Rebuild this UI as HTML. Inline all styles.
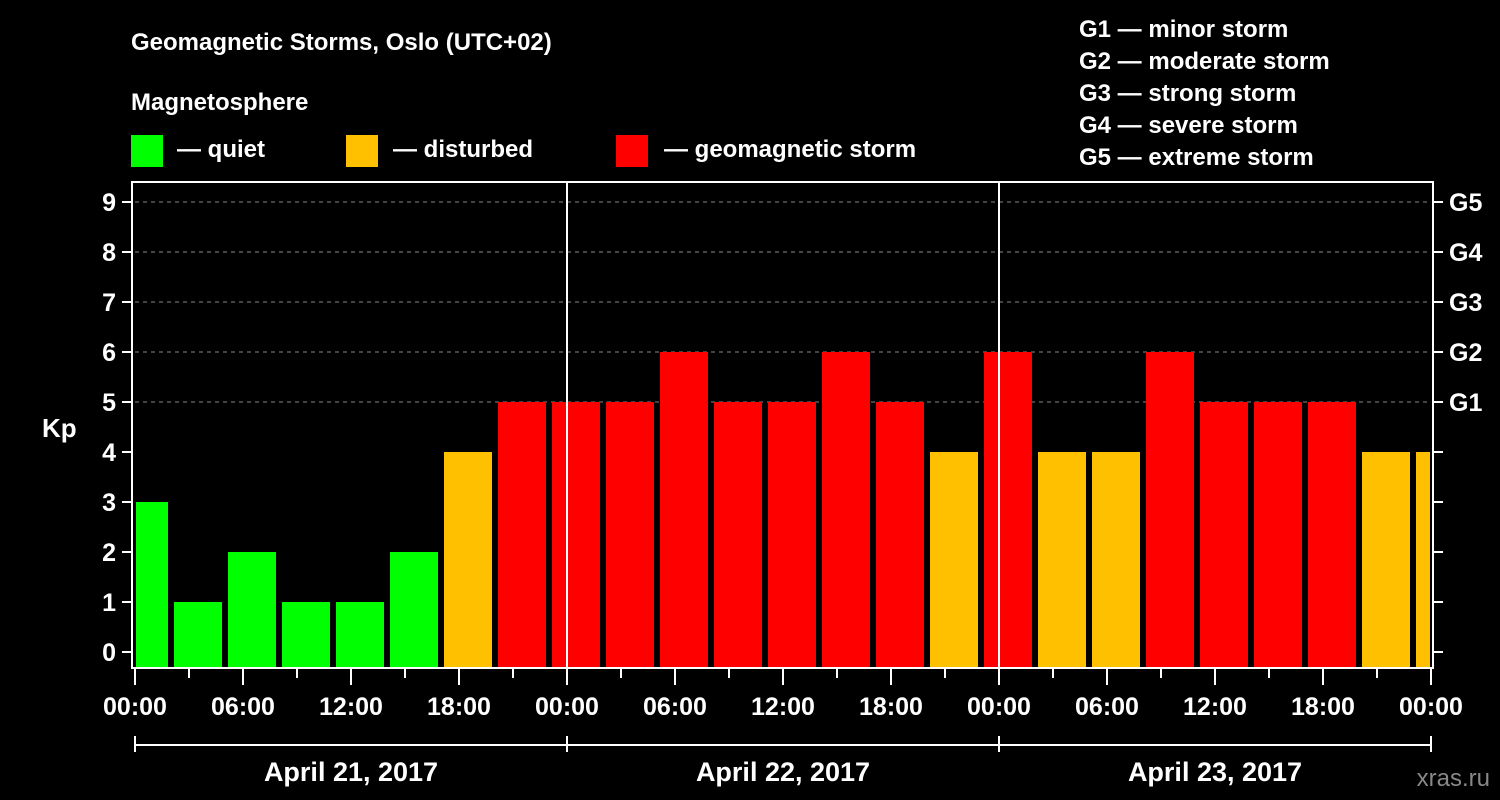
<!DOCTYPE html>
<html><head><meta charset="utf-8"><style>
html,body{margin:0;padding:0;background:#000;width:1500px;height:800px;overflow:hidden}
svg{display:block;font-family:"Liberation Sans",Arial,sans-serif;font-weight:bold}
</style></head><body>
<svg id="c" width="1500" height="800">
<text x="131" y="50" fill="#fff" font-size="24">Geomagnetic Storms, Oslo (UTC+02)</text>
<text x="131" y="110" fill="#fff" font-size="24">Magnetosphere</text>
<g><rect x="131" y="135" width="32" height="32" fill="#00ff00"/><text x="177" y="157" fill="#fff" font-size="24">— quiet</text></g>
<g><rect x="346" y="135" width="32" height="32" fill="#ffc000"/><text x="393" y="157" fill="#fff" font-size="24">— disturbed</text></g>
<g><rect x="616" y="135" width="32" height="32" fill="#ff0000"/><text x="664" y="157" fill="#fff" font-size="24">— geomagnetic storm</text></g>
<g fill="#fff" font-size="24">
<text x="1079" y="37">G1 — minor storm</text><text x="1079" y="69">G2 — moderate storm</text><text x="1079" y="101">G3 — strong storm</text><text x="1079" y="133">G4 — severe storm</text><text x="1079" y="165">G5 — extreme storm</text></g>
<text x="42" y="437" fill="#fff" font-size="26">Kp</text>
<text x="1490" y="786" fill="#888" font-size="24" text-anchor="end" font-weight="normal">xras.ru</text>
<g id="plot"></g>
</svg>
<script>
const kpValues=[3,1,2,1,1,2,4,5,5,5,6,5,5,6,5,4,6,4,4,6,5,5,5,4,4];
const yTicks=[0,1,2,3,4,5,6,7,8,9];
const gLabels=["G1","G2","G3","G4","G5"];
const gLevels=[5,6,7,8,9];
const xTickLabels=["00:00","06:00","12:00","18:00","00:00","06:00","12:00","18:00","00:00","06:00","12:00","18:00","00:00"];
const dayLabels=["April 21, 2017","April 22, 2017","April 23, 2017"];
const NS="http://www.w3.org/2000/svg";
const X0=135,X1=1431,TOP=182,BOT=668,Y0=652,UNIT=50,HOURS=72;
const xs=h=>X0+(X1-X0)*h/HOURS;
const ys=v=>Y0-v*UNIT;
const g=document.getElementById('plot');
function mk(t,a){const e=document.createElementNS(NS,t);for(const k in a)e.setAttribute(k,a[k]);g.appendChild(e);return e;}
// grid
gLevels.forEach(v=>{const e=mk('line',{x1:X0,x2:X1,y1:ys(v),y2:ys(v),stroke:'#888','stroke-dasharray':'4,4','stroke-width':1});

});
// bars
kpValues.forEach((v,i)=>{
 let l=xs(i*3-0.833),r=l+48;
 l=Math.max(l,X0+1);r=Math.min(r,X1-1);
 const col=v<4?'#00ff00':(v<5?'#ffc000':'#ff0000');
 const e=mk('rect',{x:l,y:ys(v),width:r-l,height:BOT-ys(v),fill:col});
 
 
});
// day separators
[24,48].forEach(h=>{const e=mk('line',{x1:xs(h),x2:xs(h),y1:TOP,y2:BOT,stroke:'#fff','stroke-width':2});

});
// frame
const fr=mk('rect',{x:X0-3,y:TOP,width:X1-X0+5,height:BOT-TOP,fill:'none',stroke:'#fff','stroke-width':2});


// y ticks
yTicks.forEach(v=>{
 mk('line',{x1:122,x2:132,y1:ys(v),y2:ys(v),stroke:'#fff','stroke-width':2});
 mk('line',{x1:1433,x2:1443,y1:ys(v),y2:ys(v),stroke:'#fff','stroke-width':2});
 const t=mk('text',{x:116,y:ys(v)+9,fill:'#fff','font-size':25,'text-anchor':'end'});t.textContent=v;
 
 
});
gLabels.forEach((s,i)=>{const t=mk('text',{x:1449,y:ys(gLevels[i])+9,fill:'#fff','font-size':25});t.textContent=s;
 
 });
// x ticks
for(let h=0;h<=HOURS;h+=3){const maj=h%6===0;mk('line',{x1:xs(h),x2:xs(h),y1:BOT,y2:maj?685:678,stroke:'#fff','stroke-width':2});}
xTickLabels.forEach((s,i)=>{const t=mk('text',{x:xs(i*6),y:715,fill:'#fff','font-size':25,'text-anchor':'middle'});t.textContent=s;
 
 });
mk('line',{x1:X0,x2:X1,y1:745,y2:745,stroke:'#fff','stroke-width':2});
[0,24,48,72].forEach(h=>mk('line',{x1:xs(h),x2:xs(h),y1:736,y2:752,stroke:'#fff','stroke-width':2}));
dayLabels.forEach((s,i)=>{const t=mk('text',{x:xs(i*24+12),y:781,fill:'#fff','font-size':27,'text-anchor':'middle'});t.textContent=s;
 
 });
</script>
</body></html>
